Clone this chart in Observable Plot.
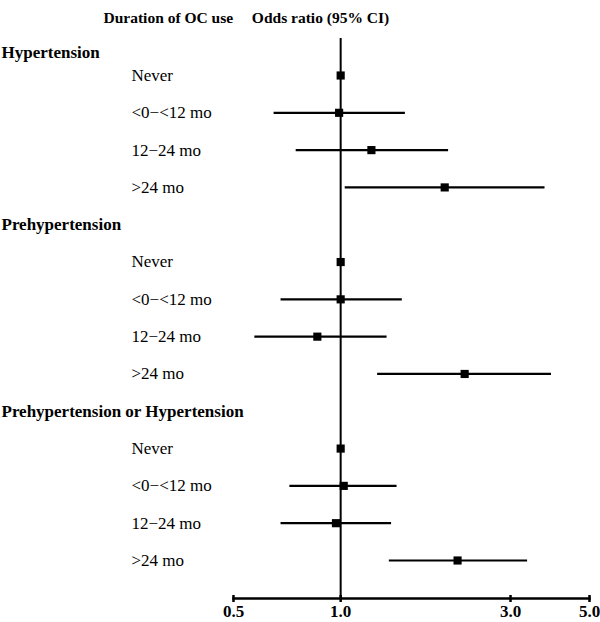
<!DOCTYPE html>
<html>
<head>
<meta charset="utf-8">
<script src="https://cdn.jsdelivr.net/npm/d3@7"></script>
<script src="https://cdn.jsdelivr.net/npm/@observablehq/plot@0.6"></script>
<style>
  html, body { margin: 0; padding: 0; background: #fff; }
  #chart svg { display: block; }
</style>
</head>
<body>
<div id="chart"></div>
<script>
// ---- Data ----
const groups = ["Hypertension", "Prehypertension", "Prehypertension or Hypertension"];
const durations = ["Never", "<0\u2212<12 mo", "12\u221224 mo", ">24 mo"];
// odds ratios (per group, per duration)
const oddsRatio = [
  [1.00, 0.99, 1.22, 1.96],
  [1.00, 1.00, 0.86, 2.23],
  [1.00, 1.02, 0.97, 2.13]
];
const ciLower = [
  [null, 0.65, 0.75, 1.03],
  [null, 0.68, 0.574, 1.27],
  [null, 0.72, 0.68, 1.37]
];
const ciUpper = [
  [null, 1.52, 2.01, 3.75],
  [null, 1.49, 1.35, 3.91],
  [null, 1.44, 1.39, 3.35]
];
const xTicks = [0.5, 1.0, 3.0, 5.0];
const headers = ["Duration of OC use", "Odds ratio (95% CI)"];

// ---- Build table: row index = group*5 + duration index; group heading at group*5 - 1 ----
const rows = [];
groups.forEach((g, gi) => {
  durations.forEach((d, di) => {
    rows.push({group: g, duration: d, row: gi * 5 + di,
      or: oddsRatio[gi][di], lo: ciLower[gi][di], hi: ciUpper[gi][di]});
  });
});
const headingRows = groups.map((g, gi) => ({group: g, row: gi === 0 ? -0.62 : gi * 5 - 1}));
const ciRows = rows.filter(r => r.lo != null);

const serif = "'Liberation Serif', 'Times New Roman', serif";

const chart = Plot.plot({
  width: 600,
  height: 622,
  marginLeft: 233,
  marginRight: 11,
  marginTop: 0,
  marginBottom: 24,
  style: {fontFamily: serif, color: "#000", background: "#fff"},
  x: {type: "log", domain: [0.5, 5]},
  y: {type: "linear", domain: [0, 13], range: [75, 560], axis: null},
  marks: [
    // reference line at OR = 1
    Plot.ruleX([1], {stroke: "#000", strokeWidth: 2, insetTop: 38}),
    // axis line
    Plot.frame({anchor: "bottom", stroke: "#000", strokeWidth: 2.5}),
    // tick marks extending slightly above the axis line
    Plot.ruleX(xTicks, {stroke: "#000", strokeWidth: 2.5, insetTop: 595}),
    Plot.axisX({
      ticks: xTicks,
      tickFormat: d3.format(".1f"),
      tickSize: 4,
      strokeWidth: 2.5,
      tickPadding: 2,
      fontSize: 17,
      fontWeight: "bold",
      label: null
    }),
    // confidence intervals
    Plot.ruleY(ciRows, {y: "row", x1: "lo", x2: "hi", stroke: "#000", strokeWidth: 2.2}),
    // point estimates
    Plot.dot(rows, {x: "or", y: "row", symbol: "square", r: 4.6, fill: "#000", stroke: null}),
    // duration labels
    Plot.text(rows, {y: "row", text: "duration", frameAnchor: "left", dx: -102,
      textAnchor: "start", fontSize: 17, fill: "#000"}),
    // group headings
    Plot.text(headingRows, {y: "row", text: "group", frameAnchor: "left", dx: -232,
      textAnchor: "start", fontSize: 17, fontWeight: "bold", fill: "#000"}),
    // column headers
    Plot.text([headers[0]], {frameAnchor: "top-left", dx: -130, dy: 11, textAnchor: "start",
      fontSize: 15.5, fontWeight: "bold", fill: "#000"}),
    Plot.text([headers[1]], {frameAnchor: "top-left", dx: 87, dy: 11, textAnchor: "middle",
      fontSize: 15.5, fontWeight: "bold", fill: "#000"})
  ]
});
document.getElementById("chart").appendChild(chart);
</script>
</body>
</html>
